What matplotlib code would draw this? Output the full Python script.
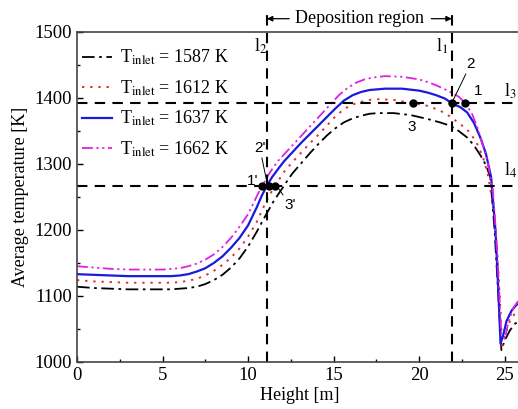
import matplotlib.pyplot as plt
from matplotlib.ticker import MultipleLocator

plt.rcParams['font.family'] = ['Liberation Serif', 'DejaVu Serif']
plt.rcParams['mathtext.fontset'] = 'stix'

# curve data: height [m] and average temperature [K]
x_1587 = [0, 1, 2, 3, 4, 5, 5.5, 6, 6.5, 7, 7.5, 8, 8.5, 9, 9.5, 10, 10.5, 11, 11.5, 12.1,
          12.35, 12.6, 13.1, 13.6, 14.1, 14.6, 15.1, 15.6, 16.1, 16.6, 17.1, 17.6, 18.5, 19.5,
          20.5, 21.2, 21.8, 22.3, 22.8, 23.2, 23.6, 23.9, 24.15, 24.4, 24.6, 24.8, 25.0, 25.3,
          25.6, 26]
y_1587 = [1114, 1112, 1111, 1110, 1110, 1110, 1110, 1111, 1112, 1114, 1118, 1124, 1132, 1143, 1157,
          1175, 1197, 1221, 1244, 1267, 1277, 1286, 1301, 1316, 1330, 1343, 1354, 1363, 1369, 1373,
          1376, 1377, 1377, 1374, 1368, 1363, 1358, 1350, 1340, 1328, 1312, 1298, 1280, 1200, 1110,
          1018, 1033, 1048, 1058, 1065]

x_1612 = [0, 1, 2, 3, 4, 5, 5.5, 6, 6.5, 7, 7.5, 8, 8.5, 9, 9.5, 10, 10.5, 11, 11.3, 11.6,
          11.9, 12.1, 12.6, 13.1, 13.6, 14.1, 14.6, 15.1, 15.6, 16.1, 16.6, 17.1, 17.6, 18.5,
          19.6, 20.2, 20.6, 21.1, 21.5, 22, 22.4, 22.8, 23.3, 23.7, 24.0, 24.3, 24.55, 24.7,
          24.85, 25.0, 25.3, 25.6, 26]
y_1612 = [1124, 1122, 1121, 1120, 1120, 1120, 1120, 1121, 1123, 1126, 1131, 1138, 1147, 1158, 1172,
          1190, 1212, 1240, 1255, 1267, 1280, 1288, 1303, 1317, 1331, 1344, 1358, 1372, 1383, 1390,
          1394, 1397, 1398, 1397, 1392, 1390, 1387, 1382, 1377, 1368, 1360, 1352, 1335, 1312, 1285,
          1240, 1170, 1100, 1025, 1040, 1062, 1074, 1080]

x_1637 = [0, 1, 2, 3, 4, 5, 5.5, 6, 6.5, 7, 7.5, 8, 8.5, 9, 9.5, 10, 10.5, 10.8, 11.1, 11.4,
          11.8, 12.1, 12.6, 13.1, 13.6, 14.1, 14.6, 15.1, 15.6, 16.1, 16.6, 17.1, 18, 19, 20,
          20.5, 21, 21.5, 21.9, 22.4, 22.8, 23.2, 23.6, 23.9, 24.2, 24.45, 24.6, 24.75, 24.9,
          25.1, 25.4, 25.7, 26]
y_1637 = [1133, 1132, 1131, 1130, 1130, 1130, 1130, 1131, 1133, 1137, 1142, 1150, 1160, 1173, 1188,
          1207, 1234, 1252, 1267, 1280, 1294, 1304, 1318, 1332, 1345, 1358, 1371, 1384, 1396, 1404,
          1409, 1412, 1414, 1414, 1411, 1408, 1404, 1399, 1392, 1386, 1378, 1362, 1338, 1315, 1280,
          1200, 1120, 1028, 1040, 1062, 1078, 1087, 1090]

x_1662 = [0, 1, 2, 3, 4, 5, 5.5, 6, 6.5, 7, 7.5, 8, 8.5, 9, 9.5, 10, 10.3, 10.6, 10.9, 11.2,
          11.5, 11.8, 12.3, 12.8, 13.3, 13.8, 14.3, 14.8, 15.3, 15.8, 16.3, 16.8, 17.3, 18, 19,
          20, 20.5, 21, 21.5, 21.8, 22.3, 22.7, 23.1, 23.4, 23.7, 24.0, 24.3, 24.5, 24.65, 24.8,
          25.0, 25.2, 25.5, 25.8, 26]
y_1662 = [1145, 1143, 1141, 1140, 1140, 1140, 1141, 1142, 1145, 1149, 1155, 1163, 1174, 1188, 1205,
          1224, 1240, 1256, 1270, 1284, 1296, 1306, 1320, 1334, 1348, 1362, 1376, 1390, 1404, 1415,
          1423, 1428, 1431, 1433, 1432, 1428, 1424, 1419, 1413, 1409, 1402, 1392, 1375, 1355, 1330,
          1303, 1260, 1190, 1120, 1040, 1035, 1060, 1082, 1093, 1098]

labels = ['1587 K', '1612 K', '1637 K', '1662 K']

# reference lines l1..l4
l1_x = 21.9
l2_x = 11.1
l3_y = 1392
l4_y = 1267

# marked points on l3 and l4
pts_l3_x = [19.65, 21.9, 22.7]
pts_l4_x = [10.8, 11.2, 11.6]

fig = plt.figure(figsize=(5.18, 4.09), dpi=100)
ax = fig.add_axes([0.1486, 0.115, 0.859, 0.807])

ax.plot(x_1587, y_1587, color='black', ls=(0, (7, 2.5, 1.5, 2.5)), lw=1.3,
        label=r'T$_{\mathrm{inlet}}$ = ' + labels[0])
ax.plot(x_1612, y_1612, color='#e03030', ls=(0, (1.2, 3)), lw=1.4,
        label=r'T$_{\mathrm{inlet}}$ = ' + labels[1])
ax.plot(x_1637, y_1637, color='#1a1adc', ls='-', lw=1.6,
        label=r'T$_{\mathrm{inlet}}$ = ' + labels[2])
ax.plot(x_1662, y_1662, color='#e020e0', ls=(0, (6, 2, 1.2, 2, 1.2, 2)), lw=1.3,
        label=r'T$_{\mathrm{inlet}}$ = ' + labels[3])

dash = (0, (5, 3.5))
ax.plot([l2_x, l2_x], [1000, 1532], color='black', ls=dash, lw=1.5, clip_on=False)
ax.plot([l1_x, l1_x], [1000, 1532], color='black', ls=dash, lw=1.5, clip_on=False)
ax.axhline(l3_y, color='black', ls=dash, lw=1.5)
ax.axhline(l4_y, color='black', ls=dash, lw=1.5)

ax.plot(pts_l3_x, [l3_y] * 3, 'o', color='black', ms=5, zorder=5)
ax.plot(pts_l4_x, [l4_y] * 3, 'o', color='black', ms=5, zorder=5)

fs = 13
ax.text(23.2, 1405, '1', fontsize=11, family='Liberation Sans')
ax.annotate('2', xy=(21.95, 1395), xytext=(22.75, 1445), fontsize=11, family='Liberation Sans',
            arrowprops=dict(arrowstyle='-', lw=0.7, color='black', shrinkA=0, shrinkB=0))
ax.text(19.3, 1350, '3', fontsize=11, family='Liberation Sans')
ax.text(9.9, 1268, "1'", fontsize=11, family='Liberation Sans')
ax.annotate("2'", xy=(11.1, 1272), xytext=(10.35, 1318), fontsize=11, family='Liberation Sans',
            arrowprops=dict(arrowstyle='-', lw=0.7, color='black', shrinkA=0, shrinkB=0))
ax.annotate("3'", xy=(11.8, 1262), xytext=(12.1, 1232), fontsize=11, family='Liberation Sans',
            arrowprops=dict(arrowstyle='-', lw=0.7, color='black', shrinkA=0, shrinkB=0))

ax.text(10.35, 1470, r'l$_2$', fontsize=fs)
ax.text(21.0, 1470, r'l$_1$', fontsize=fs)
ax.text(24.95, 1402, r'l$_3$', fontsize=fs)
ax.text(24.95, 1282, r'l$_4$', fontsize=fs)

# deposition region marker above the axes
ax.text((l1_x + l2_x) / 2, 1520, 'Deposition region', fontsize=fs, ha='center', va='center',
        clip_on=False)
ax.annotate('', xy=(l2_x, 1520), xytext=(12.4, 1520), annotation_clip=False,
            arrowprops=dict(arrowstyle='-|>', lw=0.9, color='black', shrinkA=0, shrinkB=0,
                            mutation_scale=8))
ax.annotate('', xy=(l1_x, 1520), xytext=(20.7, 1520), annotation_clip=False,
            arrowprops=dict(arrowstyle='-|>', lw=0.9, color='black', shrinkA=0, shrinkB=0,
                            mutation_scale=8))

ax.set_xlim(0, 26)
ax.set_ylim(1000, 1500)
ax.xaxis.set_major_locator(MultipleLocator(5))
ax.xaxis.set_minor_locator(MultipleLocator(2.5))
ax.yaxis.set_major_locator(MultipleLocator(100))
ax.yaxis.set_minor_locator(MultipleLocator(50))
ax.tick_params(which='both', direction='in', labelsize=13.5, width=1)
ax.tick_params(which='major', length=4)
ax.tick_params(which='minor', length=2.5)
for s in ax.spines.values():
    s.set_linewidth(1.2)
    s.set_color('#444444')

ax.set_xlabel('Height [m]', fontsize=fs, labelpad=2)
ax.set_ylabel('Average temperature [K]', fontsize=fs, labelpad=4)

ax.legend(loc='upper left', bbox_to_anchor=(0.0, 0.968), frameon=False, fontsize=fs,
          handlelength=1.65, handletextpad=0.45, labelspacing=0.62, borderaxespad=0,
          borderpad=0.3)

fig.savefig('out.png', dpi=100)
